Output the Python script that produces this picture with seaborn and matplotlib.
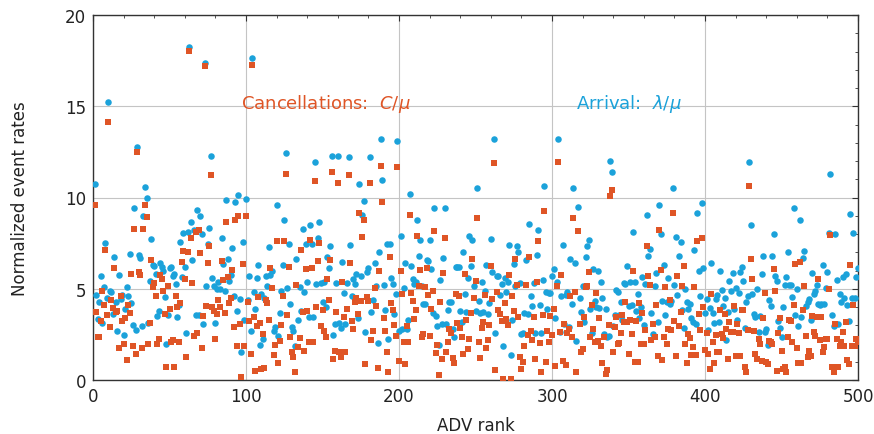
import numpy as np
import pandas as pd
import matplotlib
matplotlib.use("Agg")
import matplotlib.pyplot as plt
from matplotlib.ticker import MultipleLocator
import seaborn as sns

# ---- data: normalized event rates per ADV rank ----
arrival_001_050 = [10.74, 4.67, 3.33, 4.3, 5.72, 3.1, 5.1, 7.49, 4.5, 15.25, 4.85, 4.8, 3.6, 6.72, 4.3, 2.7, 5.77, 4.45, 4.67, 2.47, 3.9, 5.07, 4.63, 6.9, 4.2, 3.0, 9.42, 2.75, 12.75, 6.85, 6.7, 2.95, 9.0, 10.6, 10.0, 3.15, 5.4, 7.7, 6.3, 6.25, 5.8, 3.5, 3.8, 6.4, 6.2, 6.0, 4.57, 2.0, 3.55, 6.15]
arrival_051_100 = [6.17, 5.72, 5.8, 5.26, 3.47, 4.1, 7.55, 5.63, 8.04, 6.17, 2.6, 8.13, 18.23, 8.68, 6.6, 8.2, 3.56, 9.32, 3.56, 9.0, 8.0, 3.07, 17.35, 5.17, 7.45, 8.33, 12.27, 5.57, 5.17, 3.13, 4.99, 5.35, 5.0, 7.78, 6.36, 4.9, 9.87, 6.63, 5.45, 5.77, 7.22, 4.6, 9.77, 3.8, 10.14, 4.44, 1.52, 7.54, 3.31, 9.92]
arrival_101_150 = [4.4, 5.72, 2.7, 17.64, 4.8, 3.9, 5.57, 6.3, 1.92, 4.7, 2.25, 4.5, 5.68, 5.13, 7.27, 5.77, 6.0, 2.7, 2.89, 9.61, 2.43, 3.67, 4.9, 6.3, 8.79, 12.42, 5.03, 7.45, 4.17, 2.89, 2.7, 1.88, 6.63, 3.31, 5.1, 3.8, 8.28, 4.8, 7.45, 5.39, 3.43, 8.5, 7.45, 3.43, 11.96, 5.26, 7.77, 8.64, 5.32, 4.3]
arrival_151_200 = [5.35, 4.0, 6.72, 6.12, 7.36, 12.27, 2.47, 3.07, 5.32, 12.27, 3.13, 2.83, 6.49, 4.77, 3.07, 5.32, 12.22, 7.42, 4.58, 5.54, 5.26, 5.81, 3.4, 10.74, 5.72, 9.06, 9.79, 2.65, 5.9, 6.12, 12.22, 3.74, 4.4, 6.41, 5.13, 2.03, 7.03, 13.2, 10.95, 5.21, 3.85, 7.45, 2.25, 7.45, 5.57, 5.26, 3.62, 4.7, 13.07, 2.7]
arrival_201_250 = [7.91, 2.8, 5.03, 6.41, 2.8, 3.31, 10.19, 6.23, 5.54, 5.26, 5.35, 8.79, 6.81, 7.67, 5.13, 4.17, 4.17, 6.6, 6.54, 7.67, 6.08, 3.67, 9.42, 3.49, 2.98, 1.92, 5.5, 3.07, 6.67, 9.42, 3.07, 3.85, 4.3, 4.26, 2.8, 2.34, 6.17, 6.17, 6.17, 3.8, 3.16, 7.03, 4.71, 3.71, 5.57, 7.91, 6.23, 7.69, 5.13, 3.8]
arrival_251_300 = [10.5, 4.35, 3.67, 5.39, 3.74, 4.9, 6.3, 3.62, 4.2, 7.73, 5.94, 13.2, 2.6, 5.72, 5.68, 4.66, 5.26, 1.88, 5.57, 4.8, 5.39, 7.4, 1.37, 3.3, 6.36, 5.13, 7.33, 7.03, 5.32, 2.52, 2.6, 3.67, 6.6, 3.62, 8.55, 4.58, 4.04, 5.32, 2.6, 6.85, 8.24, 4.1, 2.6, 5.5, 10.61, 4.8, 3.89, 4.77, 4.77, 5.72]
arrival_301_350 = [6.08, 3.4, 5.35, 13.2, 2.65, 4.58, 7.4, 3.07, 4.66, 4.84, 2.9, 6.63, 4.17, 10.5, 6.41, 2.16, 9.5, 4.48, 3.7, 5.13, 3.2, 6.72, 7.33, 7.69, 3.89, 2.6, 6.08, 4.35, 4.0, 5.99, 3.93, 5.35, 4.5, 2.52, 3.89, 2.34, 2.39, 12.02, 11.42, 2.98, 3.56, 4.95, 4.84, 3.56, 4.26, 3.31, 5.32, 5.26, 6.27, 4.04]
arrival_351_400 = [5.35, 4.11, 8.09, 5.39, 3.8, 4.7, 3.38, 4.0, 5.63, 3.0, 5.26, 9.04, 6.78, 7.18, 3.67, 2.5, 5.13, 5.86, 3.2, 9.61, 8.0, 4.35, 6.3, 3.56, 4.26, 5.6, 4.17, 4.35, 10.54, 5.21, 7.82, 4.66, 6.78, 7.54, 3.85, 2.83, 5.0, 4.26, 3.89, 4.17, 3.4, 3.2, 7.14, 3.07, 9.15, 5.99, 4.58, 9.7, 6.12, 3.67]
arrival_401_450 = [4.44, 2.76, 3.93, 6.41, 3.67, 3.13, 4.44, 4.66, 3.2, 5.99, 4.95, 4.04, 4.48, 2.2, 3.71, 5.45, 4.9, 5.86, 3.9, 5.03, 3.31, 4.77, 5.94, 6.2, 5.45, 2.83, 4.3, 4.58, 11.96, 8.47, 4.71, 3.62, 3.43, 4.99, 2.65, 3.5, 5.81, 6.81, 2.65, 2.8, 1.9, 4.4, 4.04, 6.81, 7.98, 5.72, 5.45, 3.25, 2.83, 2.34]
arrival_451_500 = [4.0, 5.21, 5.63, 7.03, 5.21, 5.21, 4.53, 9.41, 3.56, 5.0, 2.94, 8.77, 3.43, 6.67, 7.09, 4.07, 4.3, 4.44, 3.31, 5.86, 4.71, 4.9, 5.21, 4.17, 4.11, 4.17, 6.3, 4.17, 5.03, 5.94, 8.07, 11.27, 3.56, 2.98, 8.0, 5.5, 3.07, 4.71, 4.26, 5.63, 4.48, 5.81, 4.11, 3.25, 9.1, 4.48, 8.06, 4.48, 5.63, 6.13]

cancel_001_050 = [9.6, 3.7, 2.35, 2.35, 3.24, 4.9, 4.1, 7.12, 3.55, 14.15, 2.93, 4.4, 3.95, 6.15, 3.73, 3.78, 1.76, 4.6, 3.24, 2.0, 3.37, 1.1, 4.1, 3.66, 5.83, 1.85, 8.27, 1.4, 12.5, 5.9, 5.77, 1.74, 8.3, 9.6, 8.95, 2.0, 3.1, 6.6, 5.1, 5.3, 4.6, 2.0, 2.25, 5.77, 5.54, 4.9, 3.6, 0.7, 5.17, 3.9]
cancel_051_100 = [2.1, 2.21, 0.7, 4.63, 4.02, 2.07, 4.22, 6.45, 7.05, 5.54, 1.24, 7.03, 18.05, 7.77, 5.32, 2.43, 8.1, 2.56, 8.24, 6.96, 1.77, 3.5, 17.2, 4.07, 6.41, 7.33, 11.23, 4.02, 3.8, 2.25, 3.62, 4.4, 4.02, 6.54, 5.5, 3.67, 8.68, 5.63, 4.22, 4.48, 6.05, 2.9, 8.79, 1.88, 8.97, 3.07, 0.18, 6.36, 1.88, 8.97]
cancel_101_150 = [4.3, 3.22, 1.43, 17.26, 3.43, 0.52, 2.98, 4.53, 3.13, 0.6, 2.5, 0.64, 4.4, 4.22, 3.3, 6.12, 5.03, 1.37, 1.92, 7.64, 0.93, 2.16, 3.0, 4.58, 7.64, 11.31, 3.56, 6.17, 2.34, 1.56, 1.28, 0.42, 5.21, 1.79, 2.28, 7.14, 3.74, 1.6, 6.08, 3.8, 2.07, 7.69, 6.12, 2.1, 10.92, 4.0, 6.54, 7.49, 2.98, 3.84]
cancel_151_200 = [2.7, 2.34, 5.54, 4.4, 6.59, 11.42, 1.15, 1.61, 3.74, 10.8, 1.52, 1.24, 5.39, 3.43, 1.52, 3.89, 11.23, 6.41, 3.25, 2.8, 4.26, 4.48, 3.6, 9.15, 4.35, 7.85, 8.79, 0.88, 4.53, 4.35, 10.8, 2.21, 2.7, 5.03, 4.07, 0.64, 5.99, 11.71, 9.74, 3.38, 2.7, 1.52, 0.46, 6.76, 4.22, 3.85, 3.02, 2.4, 11.65, 1.06]
cancel_201_250 = [5.99, 4.71, 2.07, 0.88, 2.98, 2.07, 9.04, 4.77, 4.35, 3.34, 3.85, 7.89, 5.17, 6.05, 2.34, 2.52, 5.08, 6.12, 4.66, 2.43, 3.9, 4.9, 8.15, 1.48, 1.92, 0.27, 4.26, 1.15, 5.86, 7.8, 1.56, 2.1, 2.8, 2.58, 1.19, 0.93, 4.71, 3.13, 4.58, 2.83, 2.34, 1.43, 5.81, 3.31, 1.7, 2.25, 3.67, 6.63, 4.48, 5.45]
cancel_251_300 = [8.88, 2.07, 1.19, 2.83, 3.2, 4.66, 1.74, 2.21, 3.0, 6.23, 4.44, 11.87, 0.57, 4.84, 3.85, 3.62, 3.25, 0.06, 4.22, 3.34, 3.02, 5.75, 0.06, 4.63, 3.8, 6.63, 5.21, 3.43, 1.24, 0.6, 0.97, 1.85, 5.21, 2.47, 6.72, 2.7, 2.21, 3.43, 1.15, 5.39, 7.6, 2.03, 0.46, 3.56, 9.26, 0.97, 2.7, 2.07, 3.49, 2.47]
cancel_301_350 = [3.89, 0.79, 5.17, 11.93, 2.65, 5.75, 1.06, 3.07, 0.82, 2.6, 2.8, 4.63, 2.34, 8.86, 4.84, 0.42, 8.17, 3.07, 1.52, 1.7, 3.43, 5.08, 5.13, 5.9, 2.34, 4.11, 2.8, 2.07, 4.77, 2.16, 3.38, 1.85, 0.93, 2.34, 0.33, 0.57, 3.0, 10.1, 10.43, 1.52, 2.89, 3.43, 1.97, 2.03, 2.6, 3.56, 3.16, 4.26, 3.16, 1.43]
cancel_351_400 = [3.3, 2.52, 5.99, 0.97, 3.25, 1.0, 4.2, 1.97, 3.67, 2.0, 2.76, 7.33, 5.72, 5.21, 2.21, 3.07, 2.34, 4.11, 1.3, 8.24, 6.05, 1.11, 2.34, 5.08, 1.97, 2.8, 4.4, 2.76, 9.17, 3.25, 1.3, 5.72, 2.94, 3.74, 5.13, 6.23, 1.97, 0.93, 2.52, 2.28, 1.37, 1.79, 5.08, 1.37, 7.64, 3.62, 2.76, 7.77, 4.0, 1.67]
cancel_401_450 = [2.6, 1.43, 0.6, 4.71, 2.1, 0.93, 2.47, 1.52, 1.56, 3.85, 2.52, 2.28, 3.6, 2.8, 1.15, 3.16, 2.65, 2.65, 4.07, 1.33, 3.07, 2.6, 1.3, 3.85, 3.85, 0.7, 0.46, 2.76, 10.65, 6.63, 5.54, 2.7, 1.43, 1.15, 2.25, 1.97, 1.06, 3.4, 4.77, 1.0, 0.88, 2.16, 2.07, 1.97, 6.08, 4.9, 0.52, 2.6, 3.38, 1.61]
cancel_451_500 = [0.6, 0.7, 0.46, 2.34, 3.31, 3.25, 2.07, 4.11, 6.36, 1.74, 0.93, 6.45, 0.93, 3.85, 5.17, 2.43, 1.24, 1.61, 1.33, 3.53, 2.65, 2.43, 3.43, 5.54, 2.21, 3.43, 1.52, 1.79, 2.25, 2.25, 4.99, 7.95, 0.7, 0.46, 3.07, 2.25, 0.7, 1.85, 2.07, 2.65, 1.85, 3.2, 1.11, 0.88, 6.3, 1.88, 4.11, 1.88, 2.25, 2.07]

arrival = (arrival_001_050 + arrival_051_100 + arrival_101_150 + arrival_151_200 + arrival_201_250
           + arrival_251_300 + arrival_301_350 + arrival_351_400 + arrival_401_450 + arrival_451_500)
cancel = (cancel_001_050 + cancel_051_100 + cancel_101_150 + cancel_151_200 + cancel_201_250
          + cancel_251_300 + cancel_301_350 + cancel_351_400 + cancel_401_450 + cancel_451_500)
rank = list(range(1, len(arrival) + 1))

x_ticks = [0, 100, 200, 300, 400, 500]
y_ticks = [0, 5, 10, 15, 20]
label_arrival = r"Arrival:  $\lambda/\mu$"
label_cancel = r"Cancellations:  $C/\mu$"

BLUE = "#1ba2da"
ORANGE = "#df5526"

sns.set_theme(style="white")
plt.rcParams["font.family"] = ["DejaVu Sans"]
plt.rcParams["mathtext.fontset"] = "dejavusans"

df = pd.DataFrame({"rank": rank, "arrival": arrival, "cancel": cancel})

fig = plt.figure(figsize=(8.74, 4.35), dpi=100)
ax = fig.add_axes([93 / 874, 1 - 381 / 435, (858 - 93) / 874, (381 - 16) / 435])

sns.scatterplot(data=df, x="rank", y="arrival", ax=ax, color=BLUE, marker="o",
                s=22, linewidth=0, zorder=3, legend=False)
sns.scatterplot(data=df, x="rank", y="cancel", ax=ax, color=ORANGE, marker="s",
                s=20, linewidth=0, zorder=4, legend=False)

ax.set_xlim(0, 500)
ax.set_ylim(0, 20)
ax.set_xticks(x_ticks)
ax.set_yticks(y_ticks)
ax.xaxis.set_minor_locator(MultipleLocator(20))
ax.yaxis.set_minor_locator(MultipleLocator(1))
ax.grid(True, which="major", color="#c4c4c4", linewidth=0.8, zorder=0)
ax.set_axisbelow(True)
ax.tick_params(which="both", direction="in", top=True, right=True, colors="#333333",
               labelcolor="#222222", labelsize=12)
ax.tick_params(which="major", length=4, width=0.8, pad=5)
ax.tick_params(which="minor", length=2.5, width=0.6)
for sp in ax.spines.values():
    sp.set_color("#333333")
    sp.set_linewidth(1.0)

ax.set_xlabel("ADV rank", fontsize=12, color="#222222", labelpad=8)
ax.set_ylabel("Normalized event rates", fontsize=12, color="#222222", labelpad=26)

ax.text(97, 15.2, label_cancel, color=ORANGE, fontsize=13, va="center", ha="left", zorder=5)
ax.text(316, 15.2, label_arrival, color=BLUE, fontsize=13, va="center", ha="left", zorder=5)

fig.savefig("out.png", dpi=100)
